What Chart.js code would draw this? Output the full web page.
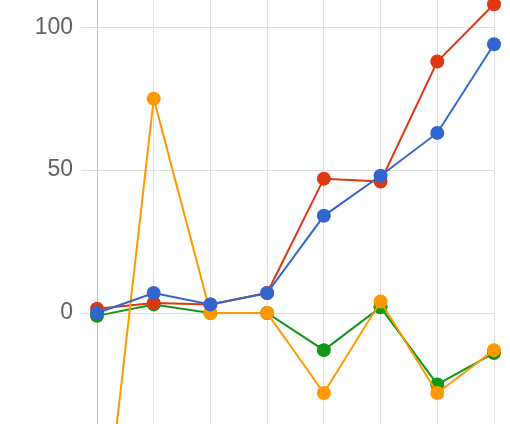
<!DOCTYPE html>
<html>
<head>
<meta charset="utf-8">
<script src="https://cdn.jsdelivr.net/npm/chart.js@4/dist/chart.umd.min.js"></script>
<style>
  html, body { margin: 0; padding: 0; background: #fff; overflow: hidden; width: 510px; height: 424px; }
  #c { position: absolute; left: 0; top: -60px; }
</style>
</head>
<body>
<canvas id="c" width="510" height="746"></canvas>
<script>
const categories = ['1', '2', '3', '4', '5', '6', '7', '8'];
const blueValues   = [0, 7, 3, 7, 34, 48, 63, 94];
const orangeValues = [-100, 75, 0, 0, -28, 4, -28, -13];
const redValues    = [1.5, 3.5, 3, 7, 47, 46, 88, 108];
const greenValues  = [-1, 3, 0, 0, -13, 2, -25, -14];
const yTickValues  = [-100, -50, 0, 50, 100];

function ds(data, color) {
  return {
    data: data,
    borderColor: color,
    backgroundColor: color,
    pointBackgroundColor: color,
    pointBorderColor: color,
    borderWidth: 2,
    pointRadius: 7,
    pointBorderWidth: 0,
    pointHoverRadius: 7,
    tension: 0,
    fill: false
  };
}

new Chart(document.getElementById('c'), {
  type: 'line',
  data: {
    labels: categories,
    datasets: [
      ds(blueValues, '#3366cc'),
      ds(orangeValues, '#ff9900'),
      ds(redValues, '#dc3912'),
      ds(greenValues, '#109618')
    ]
  },
  options: {
    responsive: false,
    animation: false,
    devicePixelRatio: 1,
    layout: { padding: { top: 30, bottom: 30, left: 0, right: 16 } },
    plugins: { legend: { display: false }, tooltip: { enabled: false } },
    scales: {
      x: {
        offset: false,
        grid: { color: '#dedede', lineWidth: 1, drawTicks: false },
        border: { display: false },
        ticks: { display: false }
      },
      y: {
        min: -120,
        max: 120,
        afterBuildTicks: (scale) => {
          scale.ticks = yTickValues.map(v => ({ value: v }));
        },
        afterFit: (scale) => { scale.width = 97; },
        grid: { color: '#dedede', lineWidth: 1, drawTicks: true, tickLength: 16 },
        border: { display: true, color: '#c4c4c4', width: 1 },
        ticks: {
          padding: 8,
          color: '#616161',
          font: { family: '"Liberation Sans", Arial, sans-serif', size: 23 }
        }
      }
    }
  }
});
</script>
</body>
</html>
